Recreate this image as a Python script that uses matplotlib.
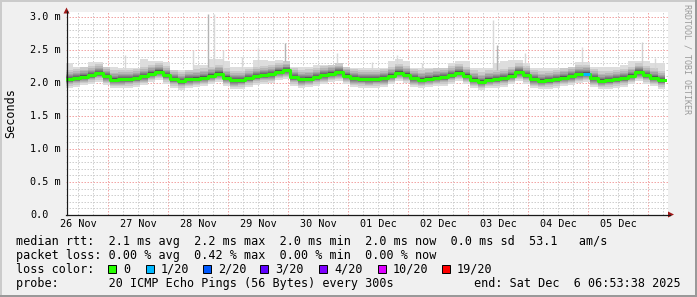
import numpy as np
import matplotlib
matplotlib.use('Agg')
import matplotlib.pyplot as plt
from matplotlib.patches import Polygon, Rectangle
from matplotlib.lines import Line2D

# ---------------- data ----------------
step_hours = 3.0
first_step_h = 6.9          # hours after 26 Nov 00:00

median_ms = [2.06, 2.075, 2.095, 2.12, 2.15, 2.10, 2.05, 2.055, 2.06, 2.075,
             2.10, 2.14, 2.17, 2.12, 2.06, 2.03, 2.055, 2.065, 2.08, 2.11,
             2.14, 2.08, 2.04, 2.045, 2.075, 2.105, 2.12, 2.13, 2.17, 2.19,
             2.09, 2.056, 2.065, 2.09, 2.115, 2.14, 2.16, 2.11, 2.07, 2.06,
             2.055, 2.06, 2.07, 2.11, 2.155, 2.125, 2.07, 2.05, 2.065, 2.08,
             2.09, 2.12, 2.155, 2.11, 2.05, 2.02, 2.05, 2.06, 2.075, 2.11,
             2.16, 2.12, 2.055, 2.035, 2.045, 2.06, 2.08, 2.10, 2.13, 2.14,
             2.07, 2.035, 2.045, 2.06, 2.075, 2.11, 2.16, 2.12, 2.08, 2.045]

max_ping_ms = [2.30, 2.24, 2.24, 2.32, 2.32, 2.25, 2.25, 2.22, 2.22, 2.22,
               2.36, 2.33, 2.33, 2.32, 2.20, 2.20, 2.20, 2.28, 2.28, 2.36,
               2.36, 2.34, 2.25, 2.25, 2.25, 2.35, 2.35, 2.34, 2.35, 2.30,
               2.25, 2.25, 2.25, 2.28, 2.28, 2.28, 2.28, 2.22, 2.22, 2.22,
               2.22, 2.22, 2.22, 2.34, 2.36, 2.33, 2.22, 2.22, 2.22, 2.22,
               2.22, 2.30, 2.33, 2.33, 2.22, 2.22, 2.22, 2.30, 2.33, 2.35,
               2.35, 2.30, 2.22, 2.22, 2.22, 2.22, 2.22, 2.25, 2.32, 2.32,
               2.25, 2.25, 2.25, 2.25, 2.27, 2.34, 2.34, 2.34, 2.30, 2.30]

# offsets of ranked pings from the median (ranks 1..10 below, 11..19 above)
smoke_below_ms = [-0.13, -0.10, -0.08, -0.065, -0.05, -0.04, -0.03, -0.02, -0.012, -0.005]
smoke_above_ms = [0.005, 0.013, 0.022, 0.032, 0.045, 0.06, 0.08, 0.105, 0.14]

loss_steps = [69]
loss_values = [1]

spike_hours = [30.8, 58.0, 64.0, 66.4, 70.0, 77.6, 84.0, 94.8, 115.6, 129.6,
               139.6, 149.6, 178.0, 179.6, 190.8, 213.6, 237.6, 242.8]
spike_top_ms = [2.42, 2.50, 3.05, 3.05, 2.50, 2.40, 2.53, 2.60, 2.45, 2.32,
                2.42, 2.30, 2.95, 2.58, 2.45, 2.55, 2.62, 2.38]
spike_gray = ['#d8d8d8', '#d8d8d8', '#b4b4b4', '#d8d8d8', '#d8d8d8', '#d8d8d8',
              '#d8d8d8', '#b4b4b4', '#d8d8d8', '#d8d8d8', '#d8d8d8', '#d8d8d8',
              '#d8d8d8', '#b4b4b4', '#d8d8d8', '#d8d8d8', '#d0d0d0', '#d8d8d8']

day_labels = ['26 Nov', '27 Nov', '28 Nov', '29 Nov', '30 Nov',
              '01 Dec', '02 Dec', '03 Dec', '04 Dec', '05 Dec']
y_ticks = [0.0, 0.5, 1.0, 1.5, 2.0, 2.5, 3.0]
y_tick_labels = ['0.0', '0.5 m', '1.0 m', '1.5 m', '2.0 m', '2.5 m', '3.0 m']

loss_levels = ['0', '1/20', '2/20', '3/20', '4/20', '10/20', '19/20']
loss_colors = ['#26ff00', '#00b8ff', '#0059ff', '#5e00ff', '#7e00ff', '#dd00ff', '#ff0000']

legend_line1 = 'median rtt:  2.1 ms avg  2.2 ms max  2.0 ms min  2.0 ms now  0.0 ms sd  53.1   am/s'
legend_line2 = 'packet loss: 0.00 % avg  0.42 % max  0.00 % min  0.00 % now'
legend_line3 = 'loss color:'
legend_line4 = 'probe:       20 ICMP Echo Pings (56 Bytes) every 300s'
legend_end = 'end: Sat Dec  6 06:53:38 2025'

# ---------------- figure ----------------
W, H = 697, 297
def fx(x): return x / W
def fy(y): return 1 - y / H

MONO = 'DejaVu Sans Mono'
fig = plt.figure(figsize=(W / 100, H / 100), dpi=100, facecolor='#f0f0f0')

# frame shading
fig.add_artist(Rectangle((0, fy(2)), 1, 2 / H, transform=fig.transFigure, color='#cbcbcb', lw=0))
fig.add_artist(Rectangle((0, 0), 2 / W, 1, transform=fig.transFigure, color='#cbcbcb', lw=0))
fig.add_artist(Rectangle((0, 0), 1, 2 / H, transform=fig.transFigure, color='#999999', lw=0))
fig.add_artist(Rectangle((fx(695), 0), 2 / W, 1, transform=fig.transFigure, color='#999999', lw=0))

x_left_h = 7.2
px_per_h = 2.5
ax = fig.add_axes([fx(66), fy(215), (668 - 66) / W, (215 - 12) / H])
ax.set_facecolor('white')
ax.set_xlim(x_left_h, x_left_h + (668 - 66) / px_per_h)
ax.set_ylim(0, (215 - 12) / 66.0)
for s in ax.spines.values():
    s.set_visible(False)
ax.set_xticks([])
ax.set_yticks([])

GRID = '#cfcfcf'
MGRID = '#f2a6a6'
dash = (0, (1.5, 1.5))
n_days = len(day_labels)
for h in np.arange(6, 24 * (n_days + 1), 6):
    if h % 24 == 0:
        ax.axvline(h, color=MGRID, lw=0.72, ls=dash, zorder=1)
    else:
        ax.axvline(h, color=GRID, lw=0.72, ls=dash, zorder=1)
for k in range(1, 31):
    v = k * 0.1
    ax.axhline(v, color=MGRID if k % 5 == 0 else GRID, lw=0.72, ls=dash, zorder=1)

# smoke
med = np.array(median_ms)
edges = first_step_h + step_hours * np.arange(len(med) + 1)
def ext(a):
    return np.append(a, a[-1])
for k in range(1, 11):
    lo = med + smoke_below_ms[k - 1]
    if k == 1:
        hi = np.maximum(np.array(max_ping_ms), med + smoke_above_ms[-1])
    else:
        hi = med + smoke_above_ms[10 - k]
    g = (int(190 / 10 * (10 - k)) + 50) / 255
    ax.fill_between(edges, ext(lo), ext(hi), step='post', color=(g, g, g), lw=0, zorder=2)

# spikes
for h, top, c in zip(spike_hours, spike_top_ms, spike_gray):
    i = int((h - first_step_h) // step_hours)
    ax.vlines(h, med[i] + smoke_above_ms[-1], top, colors=c, lw=1.0, zorder=2.5)

# median line
ax.step(edges, ext(med), where='post', color=loss_colors[0], lw=2.2, zorder=4)
for i, lv in zip(loss_steps, loss_values):
    ax.plot([edges[i], edges[i + 1]], [med[i], med[i]], color=loss_colors[lv], lw=2.2,
            zorder=5, solid_capstyle='butt')

# axes lines + arrows
AX = '#1a1a1a'
fig.add_artist(Line2D([fx(66), fx(670)], [fy(214.5), fy(214.5)], color=AX, lw=0.9))
fig.add_artist(Line2D([fx(66.5), fx(66.5)], [fy(215), fy(11)], color=AX, lw=0.9))
ARROW = '#a01818'
fig.add_artist(Polygon([(fx(668), fy(211.5)), (fx(674), fy(214.5)), (fx(668), fy(217.5))],
                       closed=True, transform=fig.transFigure, color=ARROW, lw=0))
fig.add_artist(Polygon([(fx(63.5), fy(13.5)), (fx(66.5), fy(7.5)), (fx(69.5), fy(13.5))],
                       closed=True, transform=fig.transFigure, color=ARROW, lw=0))

# tick labels
for d, lab in enumerate(day_labels):
    hx = 24 * d + 12
    ax.text(hx, -(224 - 215) / 203, lab, transform=ax.get_xaxis_transform(),
            ha='center', va='center', family=MONO, size=7.3, clip_on=False)
for v, lab in zip(y_ticks, y_tick_labels):
    ax.text((30 - 66) / 602, v, lab, transform=ax.get_yaxis_transform(),
            ha='left', va='center', family=MONO, size=7.3, clip_on=False)

fig.text(fx(10.5), fy(113.5), 'Seconds', rotation=90, ha='center', va='center',
         family=MONO, size=8.5)
fig.text(fx(687.5), fy(4), 'RRDTOOL / TOBI OETIKER', rotation=-90, ha='center', va='top',
         family=MONO, size=6, color='#9a9a9a')

# legend
LS = 8.5
fig.text(fx(16), fy(244.5), legend_line1, family=MONO, size=LS, va='baseline')
fig.text(fx(16), fy(258.7), legend_line2, family=MONO, size=LS, va='baseline')
fig.text(fx(16), fy(272.7), legend_line3, family=MONO, size=LS, va='baseline')
sq_x = [108, 146, 203, 260, 319, 378, 442]
for sx, lab, col in zip(sq_x, loss_levels, loss_colors):
    fig.add_artist(Rectangle((fx(sx), fy(273)), 8 / W, 8 / H, transform=fig.transFigure,
                             facecolor=col, edgecolor='black', lw=0.7))
    fig.text(fx(sx + 15), fy(272.7), lab, family=MONO, size=LS, va='baseline')
fig.text(fx(16), fy(286.8), legend_line4, family=MONO, size=LS, va='baseline')
fig.text(fx(680.5), fy(286.8), legend_end, family=MONO, size=LS, va='baseline', ha='right')

fig.savefig('out.png', dpi=100, facecolor=fig.get_facecolor())
